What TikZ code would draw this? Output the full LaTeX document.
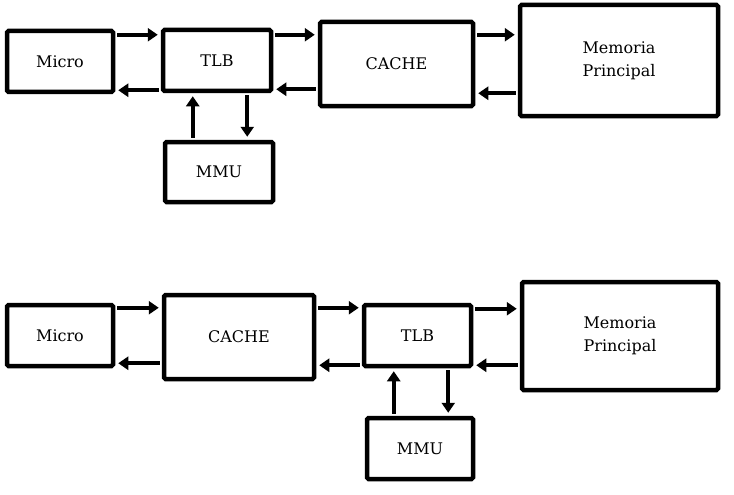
\documentclass[tikz,border=0pt]{standalone}
\usepackage{fontspec}
\setmainfont{DejaVu Serif}
\usetikzlibrary{arrows.meta}
\tikzset{
	% ---- default
	every node/.style={font=\fontsize{16}{23}\selectfont},
	% ---- custom
	box/.style={draw, line width=4.5pt, rounded corners=1.5pt, align=center, inner sep=0pt},
	link/.style={line width=4pt, -{Triangle[length=10pt,width=13pt]}, shorten <=2pt, shorten >=3pt},
}
\begin{document}
\begin{tikzpicture}[x=1pt, y=-1pt]

	\useasboundingbox (0,0) rectangle (734,495);

% upper blocks %{{{2

	\node[box, minimum width=106pt, minimum height=61pt] (microA) at (60,61.5) {Micro};
	\node[box, minimum width=108pt, minimum height=61pt] (tlbA) at (217,60.5) {TLB};
	\node[box, minimum width=108pt, minimum height=60pt] (mmuA) at (219,172) {MMU};
	\node[box, minimum width=153pt, minimum height=84pt] (cacheA) at (396.5,64) {CACHE};
	\node[box, minimum width=198pt, minimum height=111pt] (memA) at (619,60.5) {Memoria\\Principal};

% lower blocks %{{{2

	\node[box, minimum width=106pt, minimum height=61pt] (microB) at (60,335.5) {Micro};
	\node[box, minimum width=150pt, minimum height=84pt] (cacheB) at (239,337) {CACHE};
	\node[box, minimum width=107pt, minimum height=61pt] (tlbB) at (417.5,335.5) {TLB};
	\node[box, minimum width=106pt, minimum height=61pt] (mmuB) at (420,448.5) {MMU};
	\node[box, minimum width=196pt, minimum height=108pt] (memB) at (620,336) {Memoria\\Principal};

% upper links %{{{2

	\draw[link] ([yshift=-6pt]microA.north east) -- ([yshift=-6pt]microA.north east -| tlbA.west);
	\draw[link] ([yshift=4pt]microA.south east -| tlbA.west) -- ([yshift=4pt]microA.south east);
	\draw[link] ([yshift=-7pt]tlbA.north east) -- ([yshift=-7pt]tlbA.north east -| cacheA.west);
	\draw[link] ([yshift=4pt]tlbA.south east -| cacheA.west) -- ([yshift=4pt]tlbA.south east);
	\draw[link] ([yshift=-15pt]cacheA.north east) -- ([yshift=-15pt]cacheA.north east -| memA.west);
	\draw[link] ([yshift=15pt]cacheA.south east -| memA.west) -- ([yshift=15pt]cacheA.south east);
	\draw[link] ([xshift=30pt]mmuA.north west) -- ([xshift=30pt]mmuA.north west |- tlbA.south);
	\draw[link] ([xshift=-26pt]tlbA.south east) -- ([xshift=-26pt]tlbA.south east |- mmuA.north);

% lower links %{{{2

	\draw[link] ([yshift=-5pt]microB.north east) -- ([yshift=-5pt]microB.north east -| cacheB.west);
	\draw[link] ([yshift=5pt]microB.south east -| cacheB.west) -- ([yshift=5pt]microB.south east);
	\draw[link] ([yshift=-5pt]tlbB.north west -| cacheB.east) -- ([yshift=-5pt]tlbB.north west);
	\draw[link] ([yshift=3pt]tlbB.south west) -- ([yshift=3pt]tlbB.south west -| cacheB.east);
	\draw[link] ([yshift=-6pt]tlbB.north east) -- ([yshift=-6pt]tlbB.north east -| memB.west);
	\draw[link] ([yshift=3pt]tlbB.south east -| memB.west) -- ([yshift=3pt]tlbB.south east);
	\draw[link] ([xshift=29pt]mmuB.north west) -- ([xshift=29pt]mmuB.north west |- tlbB.south);
	\draw[link] ([xshift=-25pt]tlbB.south east) -- ([xshift=-25pt]tlbB.south east |- mmuB.north);

% closing %{{{2

\end{tikzpicture}
\end{document}
